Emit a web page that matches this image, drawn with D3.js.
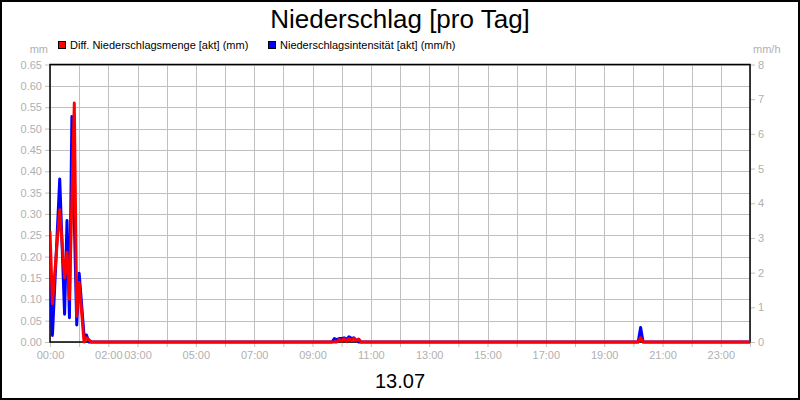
<!DOCTYPE html>
<html>
<head>
<meta charset="utf-8">
<script src="https://cdn.jsdelivr.net/npm/d3@7"></script>
<style>
  html, body { margin: 0; padding: 0; background: #fff; }
  svg { display: block; font-family: "Liberation Sans", Arial, sans-serif; }
</style>
</head>
<body>
<svg id="chart" width="800" height="400"></svg>
<script>
// ---- data ----
const title = "Niederschlag [pro Tag]";
const dateLabel = "13.07";
const seriesNames = ["Diff. Niederschlagsmenge [akt] (mm)", "Niederschlagsintensität [akt] (mm/h)"];
const seriesColors = ["#ff0000", "#0000ff"];

const amountTimes  = ["00:00","00:05","00:20","00:30","00:35","00:40","00:50","00:55","01:00","01:10","01:15","01:25",
                      "09:50","09:55","10:00","10:05","10:10","10:15","10:20","10:25","10:30","10:35","10:40",
                      "20:10","20:15","20:20","24:00"];
const amountValues = [0.26, 0.09, 0.31, 0.15, 0.21, 0.10, 0.56, 0.06, 0.14, 0.0, 0.01, 0.0,
                      0.0, 0.006, 0.002, 0.008, 0.002, 0.008, 0.003, 0.009, 0.003, 0.007, 0.0,
                      0.0, 0.01, 0.0, 0.0];

const intensityTimes  = ["00:00","00:05","00:20","00:30","00:35","00:40","00:45","00:55","01:00","01:10","01:15","01:20",
                         "09:40","09:45","09:50","09:55","10:00","10:05","10:10","10:15","10:20","10:25","10:30","10:35",
                         "20:10","20:15","20:20","24:00"];
const intensityValues = [1.98, 0.19, 4.7, 0.8, 3.5, 0.7, 6.5, 0.49, 1.98, 0.19, 0.2, 0.0,
                         0.0, 0.1, 0.07, 0.1, 0.1, 0.12, 0.08, 0.15, 0.1, 0.12, 0.05, 0.0,
                         0.0, 0.42, 0.0, 0.0];

const leftTicks  = [0,0.05,0.10,0.15,0.20,0.25,0.30,0.35,0.40,0.45,0.50,0.55,0.60,0.65];
const rightTicks = [0,1,2,3,4,5,6,7,8];
const hourTicks  = [0,1,2,3,4,5,6,7,8,9,10,11,12,13,14,15,16,17,18,19,20,21,22,23,24];
const xTickLabels = ["00:00","02:00","03:00","05:00","07:00","09:00","11:00","13:00","15:00","17:00","19:00","21:00","23:00"];

// ---- layout ----
const W = 800, H = 400;
const plot = {left: 50, right: 750, top: 64.5, bottom: 342};
const gridColor = "#c0c0c0";
const tickTextColor = "#b0b0b0";

const toMin = s => { const [h, m] = s.split(":").map(Number); return h * 60 + m; };

const svg = d3.select("#chart");
const x = d3.scaleLinear().domain([0, 1440]).range([plot.left, plot.right]);
const yL = d3.scaleLinear().domain([0, 0.65]).range([plot.bottom, plot.top]);
const yR = d3.scaleLinear().domain([0, 8]).range([plot.bottom, plot.top]);

// outer border
svg.append("rect").attr("x", 1).attr("y", 1).attr("width", W - 2).attr("height", H - 2)
  .attr("fill", "#fff").attr("stroke", "#000").attr("stroke-width", 2);

// title
svg.append("text").attr("x", W / 2).attr("y", 28).attr("text-anchor", "middle")
  .attr("font-size", 26).attr("fill", "#000").text(title);

// legend
const legend = [{x: 58, name: seriesNames[0], color: seriesColors[0]},
                {x: 268, name: seriesNames[1], color: seriesColors[1]}];
legend.forEach(l => {
  svg.append("rect").attr("x", l.x + 0.5).attr("y", 41.5).attr("width", 7).attr("height", 7)
    .attr("fill", l.color).attr("stroke", "#000").attr("stroke-width", 1);
  svg.append("text").attr("x", l.x + 12).attr("y", 48.5).attr("font-size", 11).attr("fill", "#000").text(l.name);
});

// unit labels
svg.append("text").attr("x", 48).attr("y", 53).attr("text-anchor", "end")
  .attr("font-size", 11).attr("fill", tickTextColor).text("mm");
svg.append("text").attr("x", 753).attr("y", 53).attr("text-anchor", "start")
  .attr("font-size", 11).attr("fill", tickTextColor).text("mm/h");

// grid
const grid = svg.append("g");
grid.selectAll("line.h").data(leftTicks).join("line")
  .attr("x1", plot.left).attr("x2", plot.right)
  .attr("y1", d => Math.round(yL(d)) + 0.5).attr("y2", d => Math.round(yL(d)) + 0.5)
  .attr("stroke", gridColor).attr("stroke-width", 1);
grid.selectAll("line.v").data(hourTicks).join("line")
  .attr("x1", d => Math.round(x(d * 60)) + 0.5).attr("x2", d => Math.round(x(d * 60)) + 0.5)
  .attr("y1", plot.top).attr("y2", plot.bottom)
  .attr("stroke", gridColor).attr("stroke-width", 1);

// axes
const styleAxis = g => {
  g.select(".domain").remove();
  g.selectAll(".tick line").attr("stroke", gridColor);
  g.selectAll(".tick text").attr("fill", tickTextColor).attr("font-size", 11)
    .attr("font-family", "'Liberation Sans', Arial, sans-serif");
};
svg.append("g").attr("transform", `translate(${plot.left},0)`)
  .call(d3.axisLeft(yL).tickValues(leftTicks).tickFormat(d3.format(".2f")).tickSize(5).tickPadding(3))
  .call(styleAxis);
svg.append("g").attr("transform", `translate(${plot.right},0)`)
  .call(d3.axisRight(yR).tickValues(rightTicks).tickFormat(d3.format("d")).tickSize(5).tickPadding(3))
  .call(styleAxis);
svg.append("g").attr("transform", `translate(0,${plot.bottom})`)
  .call(d3.axisBottom(x).tickValues(hourTicks.map(h => h * 60)).tickSize(5).tickPadding(4)
    .tickFormat(d => {
      const lbl = String(Math.floor(d / 60)).padStart(2, "0") + ":00";
      return xTickLabels.includes(lbl) ? lbl : "";
    }))
  .call(styleAxis);

// clip
svg.append("clipPath").attr("id", "clip").append("rect")
  .attr("x", plot.left).attr("y", plot.top - 2).attr("width", plot.right - plot.left).attr("height", plot.bottom - plot.top + 4);

// frame
svg.append("rect").attr("x", plot.left).attr("y", plot.top).attr("width", plot.right - plot.left)
  .attr("height", plot.bottom - plot.top).attr("fill", "none").attr("stroke", "#000").attr("stroke-width", 1.5);

// lines
const intensityData = intensityTimes.map((t, i) => ({t: toMin(t), v: intensityValues[i]}));
const amountData = amountTimes.map((t, i) => ({t: toMin(t), v: amountValues[i]}));

const lineR = d3.line().x(d => x(d.t)).y(d => yR(d.v));
const lineL = d3.line().x(d => x(d.t)).y(d => yL(d.v));

const lines = svg.append("g").attr("clip-path", "url(#clip)");
lines.append("path").datum(intensityData).attr("d", lineR)
  .attr("fill", "none").attr("stroke", seriesColors[1]).attr("stroke-width", 3).attr("stroke-linejoin", "round");
lines.append("path").datum(amountData).attr("d", lineL)
  .attr("fill", "none").attr("stroke", seriesColors[0]).attr("stroke-width", 3).attr("stroke-linejoin", "round");

// date label
svg.append("text").attr("x", W / 2).attr("y", 388).attr("text-anchor", "middle")
  .attr("font-size", 20).attr("fill", "#000").text(dateLabel);
</script>
</body>
</html>
